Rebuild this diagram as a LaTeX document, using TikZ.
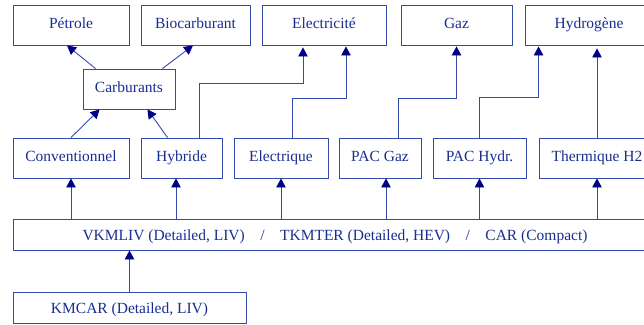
\documentclass[tikz,border=0pt]{standalone}
\usepackage{fontspec}
\setmainfont{Liberation Serif}
\usepackage{tikz}
\usetikzlibrary{arrows.meta}
\definecolor{boxblue}{RGB}{50,75,170}
\definecolor{txtblue}{RGB}{25,45,145}
\definecolor{tipnavy}{RGB}{0,0,135}

\begin{document}
\begin{tikzpicture}[x=1pt,y=-1pt,
  >={Triangle[length=9pt,width=9.5pt,color=tipnavy]},
  box/.style={draw=boxblue,line width=0.9pt,text=txtblue,inner sep=0pt,
    minimum height=40pt,text height=11pt,text depth=5pt,
    font=\fontsize{15.5}{18}\selectfont},
  flatbox/.style={box,minimum height=31pt,text height=12pt,text depth=1pt},
  arr/.style={->,draw=boxblue,line width=0.9pt}]
  \useasboundingbox (0,0) rectangle (644,324);
  \clip (0,0) rectangle (644,324);
  % sources d'energie
  \node[box,minimum width=116pt] (petrole) at (71,25)    {Pétrole};
  \node[box,minimum width=109pt] (bio)     at (195.5,25) {Biocarburant};
  \node[box,minimum width=124pt] (elec)    at (324,25)   {Electricité};
  \node[box,minimum width=111pt] (gaz)     at (456.5,25) {Gaz};
  \node[box,minimum width=128pt] (hydro)   at (589,25)   {Hydrogène};
  \node[box,minimum width=92pt]  (carb)    at (129,89)   {Carburants};
  % motorisations
  \node[box,minimum width=116pt] (conv)   at (71,158)    {Conventionnel};
  \node[box,minimum width=81pt]  (hyb)    at (181.5,158) {Hybride};
  \node[box,minimum width=94pt]  (elect)  at (281,158)   {Electrique};
  \node[box,minimum width=82pt]  (pacgaz) at (380,158)   {PAC Gaz};
  \node[box,minimum width=93pt]  (pachyd) at (479.5,158) {PAC Hydr.};
  \node[box,minimum width=116pt] (therm)  at (597,158)   {Thermique H2};
  % variables
  \node[flatbox,minimum width=644pt] (big) at (335,234.5)
    {VKMLIV (Detailed, LIV)\quad/\quad TKMTER (Detailed, HEV)\quad/\quad CAR (Compact)};
  \node[flatbox,minimum width=233pt] (kmcar) at (129.5,307.5) {KMCAR (Detailed, LIV)};

  \draw[arr] ([xshift=13pt]carb.north west) -- ([xshift=-4pt]petrole.south);
  \draw[arr] ([xshift=-13pt]carb.north east) -- ([xshift=-2.5pt]bio.south);
  \draw[arr] (conv.north) -- ([xshift=17pt]carb.south west);
  \draw[arr] ([xshift=27pt]hyb.north west) -- ([xshift=-28pt]carb.south east);
  \draw[arr,shorten >=2pt] ([xshift=17.5pt]hyb.north) -- ++(0,-54) -| ([xshift=-21pt]elec.south);
  \draw[arr,shorten >=1pt] ([xshift=11pt]elect.north) -- ++(0,-39) -| ([xshift=22pt]elec.south);
  \draw[arr,shorten >=1pt] ([xshift=18pt]pacgaz.north) -- ++(0,-39) -| (gaz.south);
  \draw[arr,shorten >=1pt] (pachyd.north) -- ++(0,-40) -| ([xshift=14pt]hydro.south west);
  \draw[arr,shorten >=3pt] (therm.north) -- (therm.north |- hydro.south);

  \foreach \n/\dx in {conv/0,hyb/-5.5,elect/0,pacgaz/6,pachyd/0,therm/0}{
    \draw[arr] ([xshift=\dx pt]big.north -| \n.south) -- ([xshift=\dx pt]\n.south);
  }
  \draw[arr] (kmcar.north) -- (kmcar.north |- big.south);
\end{tikzpicture}
\end{document}
